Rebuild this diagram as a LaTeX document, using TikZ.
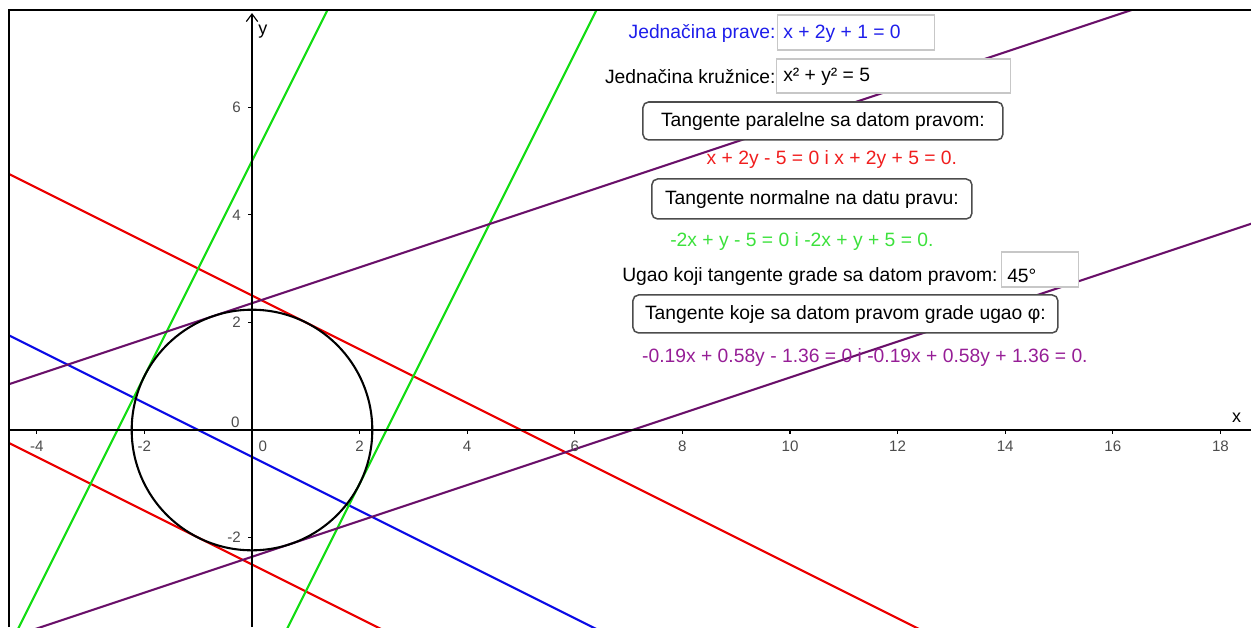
\documentclass[tikz,border=0pt]{standalone}
\usepackage{fontspec}
\setmainfont{Liberation Sans}
\usetikzlibrary{arrows.meta}
\definecolor{lblue}{RGB}{10,10,230}
\definecolor{lred}{RGB}{235,0,0}
\definecolor{lgreen}{RGB}{20,220,20}
\definecolor{lpurple}{RGB}{105,15,105}
\definecolor{tblue}{RGB}{30,30,235}
\definecolor{tred}{RGB}{240,30,30}
\definecolor{tgreen}{RGB}{60,225,60}
\definecolor{tpurple}{RGB}{150,30,150}
\tikzset{
  curve/.style={line width=1.1pt},
  axis/.style={line width=0.6pt, black},
  ticklab/.style={font=\fontsize{8}{9}\selectfont, text=black!70, inner sep=0pt},
  inbox/.style={draw=black!22, fill=white, line width=0.6pt, inner sep=0pt},
  btn/.style={draw=black!70, fill=white, line width=0.8pt, rounded corners=3pt, inner sep=0pt},
  lab/.style={font=\fontsize{10.2}{12}\selectfont, inner sep=0pt}
}
\begin{document}
\begin{tikzpicture}[x=1cm,y=1cm]
\useasboundingbox (-4.6840,-3.6617) rectangle (18.5688,7.9926);
% curves, clipped to the frame
\begin{scope}
\clip (-4.5167,-3.6617) rectangle (18.5688,7.8067);
\draw[curve, lblue] (-5,2) -- (19,-10);
\draw[curve, lred] (-5,5) -- (19,-7);
\draw[curve, lred] (-5,0) -- (19,-12);
\draw[curve, lgreen] (-5,-5) -- (2,9);
\draw[curve, lgreen] (0,-5) -- (7,9);
\draw[curve, lpurple] (-5,0.6903) -- (19,8.6903);
\draw[curve, lpurple] (-5,-4.0237) -- (19,3.9763);
\draw[curve, black] (0,0) circle (2.2361);
\end{scope}
% axes
\coordinate (xl) at (-4.5167,0);
\coordinate (xr) at (18.5688,0);
\coordinate (yb) at (0,-3.6617);
\coordinate (yt) at (0,7.75);
\draw[axis] (xl) -- (xr);
\draw[axis, -{Straight Barb[length=4pt,width=6pt]}] (yb) -- (yt);
\foreach \v in {-4,-2,2,4,6,8,10,12,14,16,18}{
  \draw[axis] (\v,0) -- (\v,-0.075);
  \node[ticklab] (tx\v) at (\v,-0.31) {\v};
}
\node[ticklab] (tx0) at (0.2,-0.31) {0};
\node[ticklab] (ty0) at (-0.31,0.15) {0};
\foreach \v in {-2,2,4,6}{
  \draw[axis] (0,\v) -- (-0.075,\v);
  \node[ticklab, anchor=east] (ty\v) at (-0.2,\v) {\v};
}
\node[lab, font=\fontsize{9.5}{11}\selectfont] (ylab) at (0.2,7.4) {y};
\node[lab, font=\fontsize{9.5}{11}\selectfont] (xlab) at (18.3,0.23) {x};
% frame (left and top)
\draw[line width=1.5pt] (-4.5167,-3.6617) -- (-4.5167,7.8067) -- (18.5688,7.8067);
% GUI elements in pixel coordinates
\begin{scope}[shift={(-4.6840,7.9926)}, x=0.018587cm, y=-0.018587cm]
\node[lab, text=tblue, anchor=east] (l1) at (776,33) {Jednačina prave:};
\node[inbox, minimum width=2.918cm, minimum height=0.651cm] (b1) at (856.5,32.5) {};
\node[lab, text=tblue, anchor=west] (b1t) at (783,34) {x + 2y + 1 = 0};
\node[lab, anchor=east] (l2) at (776,77) {Jednačina kružnice:};
\node[inbox, minimum width=4.349cm, minimum height=0.632cm] (b2) at (894,76) {};
\node[lab, anchor=west] (b2t) at (783,77) {x² + y² = 5};
\node[btn, minimum width=6.691cm, minimum height=0.706cm] (btn1) at (823,121) {};
\node[lab] (btn1t) at (823,122) {Tangente paralelne sa datom pravom:};
\node[lab, text=tred] (r1) at (832,160) {x + 2y - 5 = 0 i x + 2y + 5 = 0.};
\node[btn, minimum width=5.948cm, minimum height=0.743cm] (btn2) at (812,199) {};
\node[lab] (btn2t) at (812,200) {Tangente normalne na datu pravu:};
\node[lab, text=tgreen] (g1) at (802,242) {-2x + y - 5 = 0 i -2x + y + 5 = 0.};
\node[lab, anchor=east] (l3) at (998,277) {Ugao koji tangente grade sa datom pravom:};
\node[inbox, minimum width=1.431cm, minimum height=0.651cm] (b3) at (1040.5,269.5) {};
\node[lab, anchor=west] (b3t) at (1007,276) {45°};
\node[btn, minimum width=7.899cm, minimum height=0.706cm] (btn3) at (845.5,314) {};
\node[lab] (btn3t) at (845.5,315) {Tangente koje sa datom pravom grade ugao φ:};
\node[lab, text=tpurple] (p1) at (865,358) {-0.19x + 0.58y - 1.36 = 0 i -0.19x + 0.58y + 1.36 = 0.};
\end{scope}
\end{tikzpicture}
\end{document}
